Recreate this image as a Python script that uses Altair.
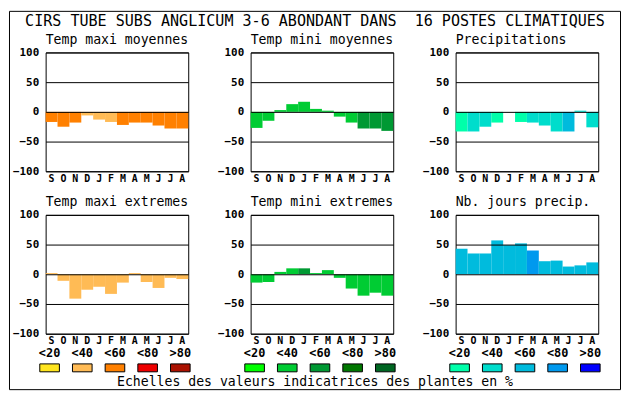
import altair as alt
import pandas as pd

# ---------------- data ----------------
MONTHS = ["S", "O", "N", "D", "J", "F", "M", "A", "M", "J", "J", "A"]
SCALE_LABELS = ["<20", "<40", "<60", "<80", ">80"]
ORANGES = ["#FFE51E", "#FFBB55", "#FF8000", "#EE0000", "#AA1100"]
GREENS = ["#00FF00", "#00CC33", "#009933", "#007700", "#006622"]
BLUES = ["#00FFAA", "#00DDCC", "#00BBDD", "#0099EE", "#0000FF"]

MAIN_TITLE = "CIRS TUBE SUBS ANGLICUM 3-6 ABONDANT DANS \u00a016 POSTES CLIMATIQUES"
CAPTION = "Echelles des valeurs indicatrices des plantes en %"
PANEL_TITLES = ["Temp maxi moyennes", "Temp mini moyennes", "Precipitations",
                "Temp maxi extremes", "Temp mini extremes", "Nb. jours precip."]

# values (%) and class index (0..4 -> <20 .. >80, -1 -> none)
tmax_moy = [-17, -25, -18, -6, -13, -17, -22, -18, -18, -23, -28, -28]
tmax_moy_cls = [2, 2, 2, 1, 1, 1, 2, 2, 2, 2, 2, 2]
tmin_moy = [-27, -15, 3, 13, 17, 5, 2, -8, -18, -28, -28, -32]
tmin_moy_cls = [1, 1, 1, 1, 1, 1, 1, 1, 1, 2, 2, 2]
precip = [-33, -33, -25, -18, -3, -17, -18, -23, -33, -33, 2, -26]
precip_cls = [0, 1, 1, 0, -1, 0, 1, 1, 1, 2, 1, 1]
tmax_ext = [2, -11, -41, -26, -21, -33, -14, 2, -13, -23, -6, -8]
tmax_ext_cls = [1, 1, 1, 1, 1, 1, 1, 1, 1, 1, 1, 1]
tmin_ext = [-14, -13, 4, 10, 10, 2, 7, -6, -24, -36, -31, -36]
tmin_ext_cls = [1, 1, 1, 1, 2, 1, 1, 1, 1, 1, 1, 1]
nb_jours = [43, 35, 35, 57, 49, 52, 40, 22, 23, 13, 15, 20]
nb_jours_cls = [2, 2, 2, 2, 2, 2, 3, 2, 2, 2, 2, 2]

FONT = "DejaVu Sans Mono"
W, H = 144, 120

month_expr = "[" + ",".join("'%s'" % m for m in MONTHS) + "][datum.value]"


def bar_layer(values, classes, palette):
    df = pd.DataFrame({
        "i": list(range(len(values))),
        "v": values,
        "c": [palette[k] if k >= 0 else "transparent" for k in classes],
    })
    return alt.Chart(df).mark_bar(strokeWidth=0).encode(
        x=alt.X("i:O", scale=alt.Scale(paddingInner=0, paddingOuter=0),
                axis=alt.Axis(title=None, labelExpr=month_expr, labelAngle=0,
                              labelFont=FONT, labelFontWeight="bold", labelFontSize=10,
                              labelColor="black", labelPadding=2, ticks=False,
                              domain=False, grid=False)),
        y=alt.Y("v:Q", scale=alt.Scale(domain=[-100, 100], nice=False),
                axis=alt.Axis(title=None, values=[-100, -50, 0, 50, 100], grid=True,
                              gridColor="black", gridOpacity=1, gridWidth=1,
                              ticks=False, domain=False, labelPadding=7,
                              labelFont=FONT, labelFontWeight="bold", labelFontSize=11,
                              labelColor="black", zindex=1)),
        y2=alt.datum(0),
        fill=alt.Fill("c:N", scale=None),
    )


def panel_title(t):
    return alt.Chart(pd.DataFrame({"t": [t]})).mark_text(
        font=FONT, fontSize=13.3, color="black", align="left", baseline="alphabetic"
    ).encode(x=alt.value(0), y=alt.value(-9), text="t:N")


def legend_layers(palette):
    ldf = pd.DataFrame({"k": list(range(5)), "lab": SCALE_LABELS, "col": palette})
    xs = alt.Scale(domain=[0, 4], range=[4, 136], nice=False, zero=False)
    rect = alt.Chart(ldf).transform_calculate(
        x0="datum.k - 0.3", x1="datum.k + 0.3"
    ).mark_rect(stroke="black", strokeWidth=1).encode(
        x=alt.X("x0:Q", scale=xs, axis=None),
        x2="x1:Q",
        y=alt.value(150.5), y2=alt.value(158.5),
        fill=alt.Fill("col:N", scale=None),
    )
    txt = alt.Chart(ldf).mark_text(font=FONT, fontWeight="bold", fontSize=12,
                                   color="black", baseline="middle").encode(
        x=alt.X("k:Q", scale=xs, axis=None),
        y=alt.value(140),
        text="lab:N",
    )
    return [rect, txt]


frame = alt.Chart(pd.DataFrame({"f": [0]})).mark_rect(
    fillOpacity=0, stroke="black", strokeWidth=1).encode(
    x=alt.value(-36.5), x2=alt.value(580.5), y=alt.value(-41.5), y2=alt.value(340.5))
main_title = alt.Chart(pd.DataFrame({"t": [MAIN_TITLE]})).mark_text(
    font=FONT, fontSize=15.2, color="black", align="center", baseline="alphabetic").encode(
    x=alt.value(65), y=alt.value(-27), text="t:N")
caption = alt.Chart(pd.DataFrame({"t": [CAPTION]})).mark_text(
    font=FONT, fontSize=13.3, color="black", align="center", baseline="alphabetic").encode(
    x=alt.value(65), y=alt.value(173), text="t:N")

p1 = alt.layer(bar_layer(tmax_moy, tmax_moy_cls, ORANGES), panel_title(PANEL_TITLES[0]),
               frame).properties(width=W, height=H)
p2 = alt.layer(bar_layer(tmin_moy, tmin_moy_cls, GREENS), panel_title(PANEL_TITLES[1]),
               main_title).properties(width=W, height=H)
p3 = alt.layer(bar_layer(precip, precip_cls, BLUES), panel_title(PANEL_TITLES[2])).properties(
    width=W, height=H)
p4 = alt.layer(bar_layer(tmax_ext, tmax_ext_cls, ORANGES), panel_title(PANEL_TITLES[3]),
               *legend_layers(ORANGES)).resolve_scale(x="independent").properties(width=W, height=H)
p5 = alt.layer(bar_layer(tmin_ext, tmin_ext_cls, GREENS), panel_title(PANEL_TITLES[4]),
               *legend_layers(GREENS), caption).resolve_scale(x="independent").properties(
    width=W, height=H)
p6 = alt.layer(bar_layer(nb_jours, nb_jours_cls, BLUES), panel_title(PANEL_TITLES[5]),
               *legend_layers(BLUES)).resolve_scale(x="independent").properties(width=W, height=H)

chart = alt.concat(p1, p2, p3, p4, p5, p6, columns=3,
                   spacing={"row": 44, "column": 63}, bounds="flush").properties(
    padding=0, background="white"
).configure_view(stroke="black", strokeWidth=1)

chart.save("out.html", embed_options={"renderer": "svg", "actions": False})
